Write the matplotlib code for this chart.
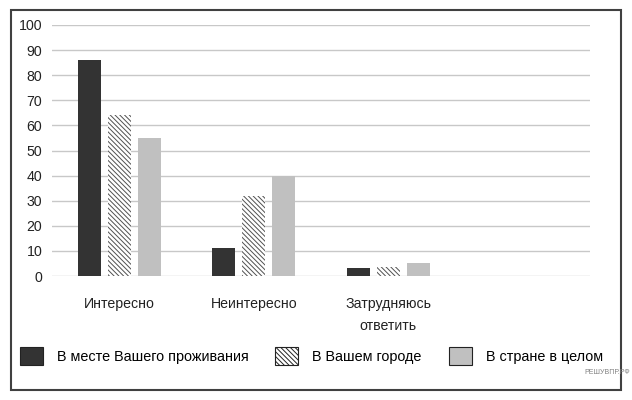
import numpy as np
import matplotlib.pyplot as plt
from matplotlib.patches import Rectangle

plt.rcParams['font.family'] = ['Liberation Sans', 'DejaVu Sans']
plt.rcParams['hatch.linewidth'] = 0.7

# данные
categories = ['Интересно', 'Неинтересно', 'Затрудняюсь\nответить', '']
series_names = ['В месте Вашего проживания', 'В Вашем городе', 'В стране в целом']
place = [86, 11, 3, 0]
city = [64, 32, 3.5, 0]
country = [55, 40, 5, 0]
yticks = np.arange(0, 101, 10)

fig = plt.figure(figsize=(6.32, 4.0), dpi=100)
ax = fig.add_axes([52/632, 1-276/400, (590-52)/632, (276-25)/400])

x = np.arange(len(categories))
step = 30/134.5
w = 23/134.5
ax.bar(x - step, place, w, color='#333333', label=series_names[0], zorder=3)
ax.bar(x, city, w, color='white', edgecolor='#505050', linewidth=0,
       hatch='\\\\\\\\\\\\\\', label=series_names[1], zorder=3)
ax.bar(x + step, country, w, color='#c0c0c0', label=series_names[2], zorder=3)

ax.set_xlim(-0.5, len(categories) - 0.5)
ax.set_ylim(0, 100)
ax.set_yticks(yticks)
ax.yaxis.grid(True, color='#c8c8c8', linewidth=1)
ax.set_axisbelow(True)
for s in ax.spines.values():
    s.set_visible(False)
ax.tick_params(length=0, labelsize=10.2, colors='#222222')
ax.tick_params(axis='y', pad=7)
ax.tick_params(axis='x', pad=15)
ax.set_xticks(x)
ax.set_xticklabels(categories, va='top', linespacing=1.75)

# легенда
h, l = ax.get_legend_handles_labels()
leg = fig.legend(h, l, loc='center left', bbox_to_anchor=(14/632, 1-356/400), ncol=3,
                 frameon=False, fontsize=10.4, handlelength=1.6, handleheight=1.6,
                 handletextpad=0.97, columnspacing=1.85, borderaxespad=0)
for p in leg.get_patches():
    p.set_edgecolor('#222222')
    p.set_linewidth(0.8)

# рамка
fig.patches.append(Rectangle((11/632, 10/400), 610/632, 380/400, transform=fig.transFigure,
                             fill=False, edgecolor='#404040', linewidth=1.5))
fig.text(630/632, 1-373/400, 'РЕШУВПР.РФ', fontsize=5, color='#808080', ha='right', va='center')

fig.savefig('out.png', dpi=100)
